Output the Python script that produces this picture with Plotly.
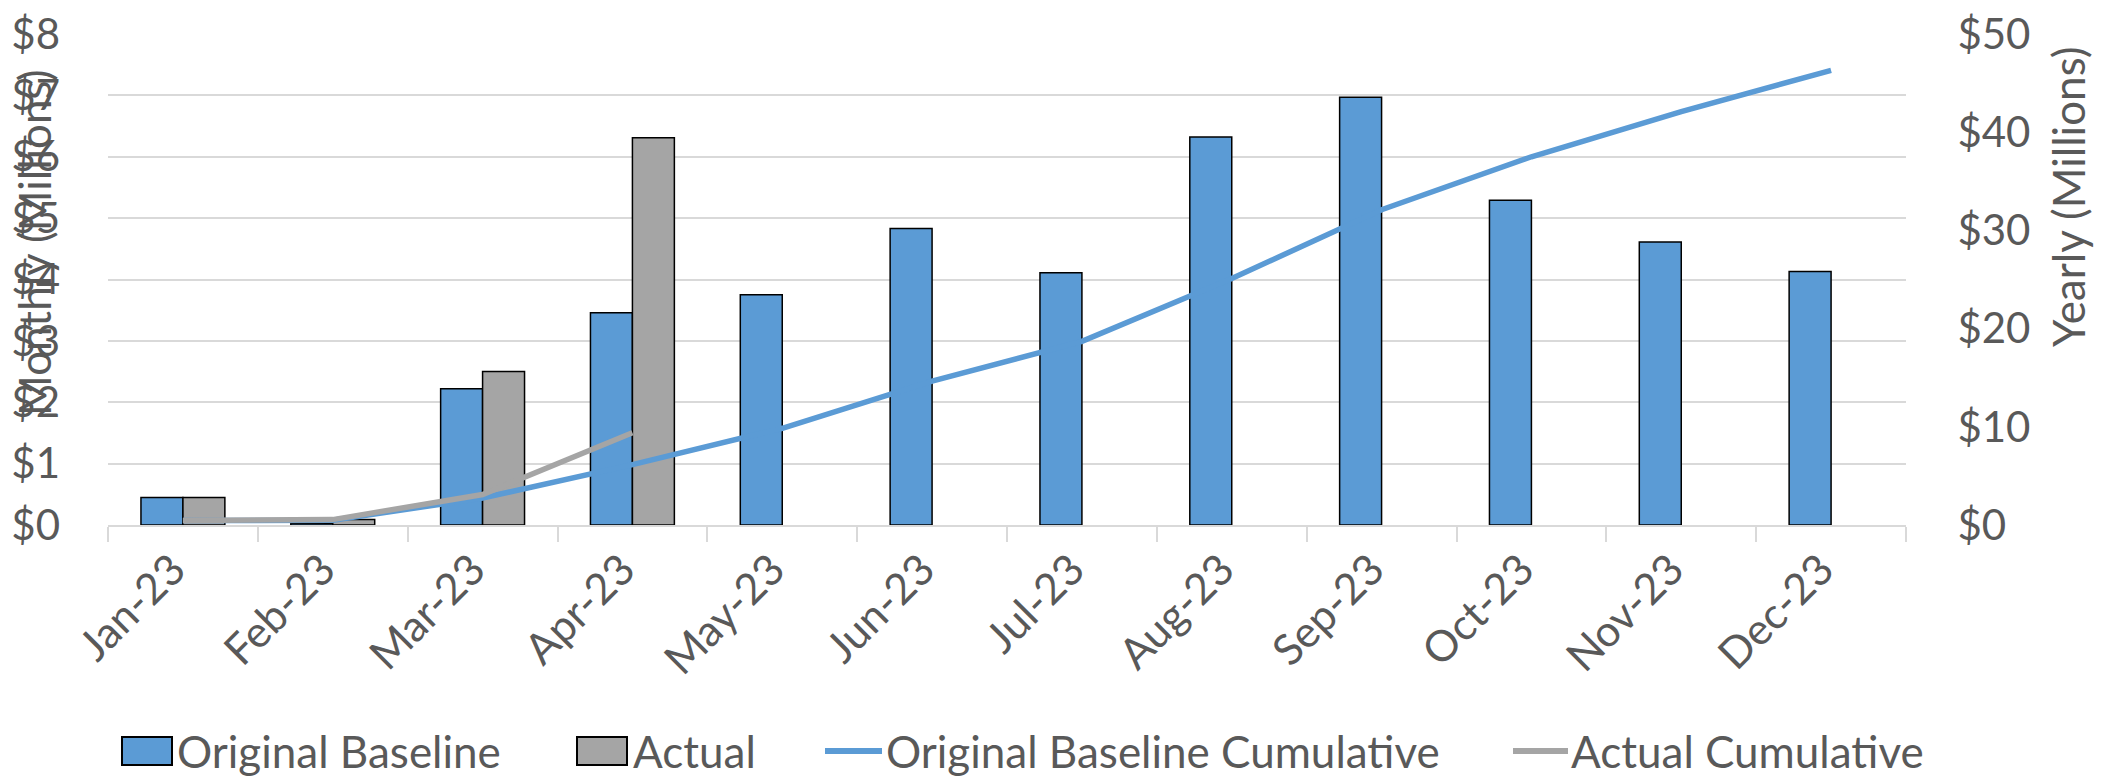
import plotly.graph_objects as go

months = ["Jan-23", "Feb-23", "Mar-23", "Apr-23", "May-23", "Jun-23",
          "Jul-23", "Aug-23", "Sep-23", "Oct-23", "Nov-23", "Dec-23"]
baseline = [0.45, 0.03, 2.22, 3.46, 3.75, 4.83, 4.11, 6.32, 6.97, 5.29, 4.61, 4.13]
actual = [0.45, 0.09, 2.50, 6.31, None, None, None, None, None, None, None, None]
baseline_cum = [0.45, 0.48, 2.75, 6.15, 9.85, 14.65, 18.7, 25.1, 32.1, 37.5, 42.1, 46.3]
actual_cum = [0.45, 0.55, 3.1, 9.4]

left_ticks = [0, 1, 2, 3, 4, 5, 6, 7, 8]
right_ticks = [0, 10, 20, 30, 40, 50]
left_ticktext = ["$" + str(v) for v in left_ticks]
right_ticktext = ["$" + str(v) for v in right_ticks]

BLUE = "#5B9BD5"
GRAY = "#A5A5A5"
TXT = "#595959"
GRID = "#D9D9D9"
FONT = "Lato"
FS = 44
XFS = 43
YFS = 42

# the page body has an 8px margin: the figure starts at (8, 8) in the window
OFF = 8
W, H = 2100, 770
ML, MR, MT, MB = 100, 202, 26, 253
PW = W - ML - MR
PH = H - MT - MB


def px(x):
    # window x -> paper x
    return (x - OFF - ML) / PW


def py(y):
    # window y -> paper y
    return (H - MB - (y - OFF)) / PH


fig = go.Figure()
fig.add_trace(go.Bar(x=months, y=baseline, name="Original Baseline",
                     marker=dict(color=BLUE, line=dict(color="black", width=1.5))))
fig.add_trace(go.Bar(x=months, y=actual, name="Actual",
                     marker=dict(color=GRAY, line=dict(color="black", width=1.5))))
fig.add_trace(go.Scatter(x=months, y=baseline_cum, name="Original Baseline Cumulative",
                         mode="lines", yaxis="y2",
                         line=dict(color=BLUE, width=5.5)))
fig.add_trace(go.Scatter(x=months[:len(actual_cum)], y=actual_cum, name="Actual Cumulative",
                         mode="lines", yaxis="y2",
                         line=dict(color=GRAY, width=5.5)))

fig.update_layout(
    width=W, height=H,
    margin=dict(l=ML, r=MR, t=MT, b=MB, autoexpand=False),
    paper_bgcolor="white", plot_bgcolor="white",
    barmode="group", bargap=0.44, bargroupgap=0,
    showlegend=False,
    font=dict(family=FONT, size=FS, color=TXT),
    xaxis=dict(type="category", tickangle=-45, ticks="outside", tickson="boundaries",
               ticklen=15, tickcolor=GRID, tickwidth=2, showgrid=False, automargin=False,
               showline=True, linecolor=GRID, linewidth=2,
               tickfont=dict(family=FONT, size=XFS, color=TXT),
               ticklabelstandoff=0, ticklabelshift=-10),
    yaxis=dict(range=[0, 8], tickmode="array", tickvals=left_ticks, ticktext=left_ticktext,
               showgrid=True, automargin=False, ticklabeloverflow="allow",
               gridcolor=GRID, gridwidth=2, zeroline=False, showline=False, ticks="",
               tickfont=dict(family=FONT, size=YFS, color=TXT), ticklabelstandoff=47),
    yaxis2=dict(range=[0, 50], tickmode="array", tickvals=right_ticks, ticktext=right_ticktext,
                overlaying="y", automargin=False, ticklabeloverflow="allow",
                side="right", showgrid=False, zeroline=False, showline=False,
                ticks="outside", ticklen=42, tickcolor="rgba(0,0,0,0)",
                tickfont=dict(family=FONT, size=YFS, color=TXT)),
)

# axis titles
fig.add_annotation(text="Monthly (Millions)", xref="paper", yref="paper",
                   x=px(34), y=py(243), textangle=-90, showarrow=False,
                   xanchor="center", yanchor="middle",
                   font=dict(family=FONT, size=FS, color=TXT))
fig.add_annotation(text="Yearly (Millions)", xref="paper", yref="paper",
                   x=px(2068), y=py(197), textangle=-90, showarrow=False,
                   xanchor="center", yanchor="middle",
                   font=dict(family=FONT, size=FS, color=TXT))

# legend drawn manually
LY = 751
legend_items = [
    ("rect", BLUE, 122, 172, 175, "Original Baseline"),
    ("rect", GRAY, 577, 627, 631, "Actual"),
    ("line", BLUE, 825, 882, 884, "Original Baseline Cumulative"),
    ("line", GRAY, 1513, 1568, 1569, "Actual Cumulative"),
]
for kind, col, x0, x1, tx, label in legend_items:
    if kind == "rect":
        fig.add_shape(type="rect", xref="paper", yref="paper",
                      x0=px(x0), x1=px(x1), y0=py(LY + 14), y1=py(LY - 14),
                      fillcolor=col, line=dict(color="black", width=2))
    else:
        fig.add_shape(type="line", xref="paper", yref="paper",
                      x0=px(x0), x1=px(x1), y0=py(LY), y1=py(LY),
                      line=dict(color=col, width=6))
    fig.add_annotation(text=label, xref="paper", yref="paper", x=px(tx), y=py(LY),
                       xanchor="left", yanchor="middle", showarrow=False,
                       font=dict(family=FONT, size=FS, color=TXT))

fig.write_html("out.html")
